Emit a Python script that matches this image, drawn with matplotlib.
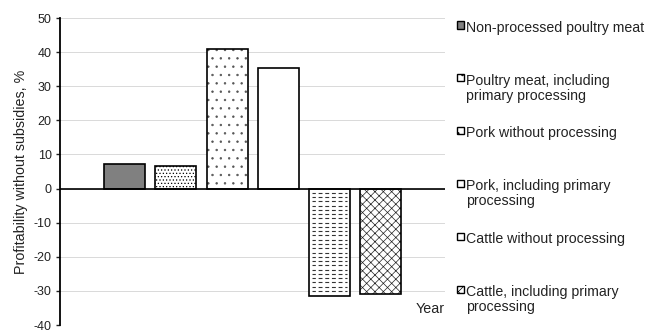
import matplotlib
matplotlib.use("Agg")
import matplotlib.pyplot as plt
from matplotlib.patches import Rectangle

plt.rcParams['font.family'] = ['Liberation Sans', 'DejaVu Sans']
plt.rcParams['hatch.linewidth'] = 0.5
plt.rcParams['axes.unicode_minus'] = False

# profitability without subsidies by product group, %
products = [
    "Non-processed poultry meat",
    "Poultry meat, including\nprimary processing",
    "Pork without processing",
    "Pork, including primary\nprocessing",
    "Cattle without processing",
    "Cattle, including primary\nprocessing",
]
profit = [7.3, 6.5, 40.8, 35.2, -31.5, -31.0]
y_ticks = [50, 40, 30, 20, 10, 0, -10, -20, -30, -40]

# fill / hatch / hatch colour per bar (black & white print style)
faces = ['#808080', 'white', 'white', 'white', 'white', 'white']
hatches = [None, '.....', '..', None, None, 'xxxx']
hatch_cols = ['#808080', 'black', '#555555', 'black', 'black', '#222222']
dashed = [False, False, False, False, True, False]

fig = plt.figure(figsize=(6.48, 3.31), dpi=100)
ax = fig.add_axes([0.0926, 0.0181, 0.594, 0.9275])

xs = list(range(len(profit)))
bw = 0.8
# hatch layer first, then outlined bars on top
for x, v, fc, h, hc, d in zip(xs, profit, faces, hatches, hatch_cols, dashed):
    ax.bar(x, v, width=bw, color=fc, edgecolor=hc, hatch=h, linewidth=0, zorder=2)
    if d:
        # rows of short dashes filling the bar
        step = 1.25 if v > 0 else -1.25
        y = step
        while abs(y) < abs(v) - 0.4:
            ax.hlines(y, x - bw / 2 + 0.05, x + bw / 2 - 0.05, colors='#333333',
                      linewidth=0.8, linestyles=(0.5, (3.5, 2.5)), zorder=2)
            y += step
ax.bar(xs, profit, width=bw, fill=False, edgecolor='black', linewidth=1.2, zorder=3)

ax.set_xlim(-1.265, 6.255)
ax.set_ylim(-40, 50)
ax.set_yticks(y_ticks)
ax.tick_params(axis='y', labelsize=9, length=3, width=1, direction='out', pad=3, colors='#222222')
ax.set_xticks([])
ax.grid(axis='y', color='#d9d9d9', linewidth=0.7, zorder=0)
ax.set_axisbelow(True)
ax.axhline(0, color='black', linewidth=1.2, zorder=4)

for s in ['top', 'right', 'bottom']:
    ax.spines[s].set_visible(False)
ax.spines['left'].set_linewidth(1.3)

ax.set_ylabel("Profitability without subsidies, %", fontsize=10.3, labelpad=4, color='#222222')
ax.text(1.0, 0.052, "Year", transform=ax.transAxes, ha='right', va='center', fontsize=10.3, color='#222222')

# legend entries at a fixed pitch, marker beside the first text line
W, H = fig.get_size_inches() * fig.dpi
pitch_px = 52.9
line_px = 15
for i, (lab, fc, h, hc) in enumerate(zip(products, faces, hatches, hatch_cols)):
    yc = 25 + i * pitch_px
    fig.patches.append(Rectangle((456.5 / W, 1 - (yc + 3.5) / H), 7 / W, 7 / H,
                                 transform=fig.transFigure, facecolor=fc, edgecolor='black',
                                 linewidth=1.0, hatch=None if h is None else h[:2]))
    for k, line in enumerate(lab.split("\n")):
        fig.text(466 / W, 1 - (yc + 6.7 + k * line_px) / H, line, ha='left', va='baseline',
                 fontsize=10.2, color='#222222')

fig.savefig("out.png", dpi=100)
